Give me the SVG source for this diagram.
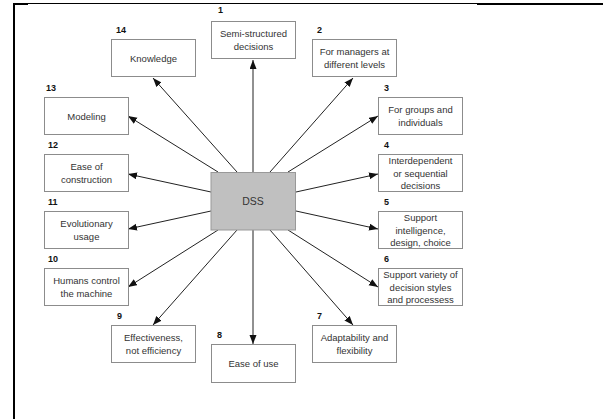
<svg xmlns="http://www.w3.org/2000/svg" width="603" height="419" viewBox="0 0 603 419">
  <style>
    .box { fill: #ffffff; stroke: #8c8c8c; stroke-width: 1; }
    .hub { fill: #c0c0c0; stroke: #999999; stroke-width: 1; }
    .txt { font-family: "Liberation Sans", Arial, sans-serif; font-size: 9.5px; fill: #333333; text-anchor: middle; }
    .hubtxt { font-family: "Liberation Sans", Arial, sans-serif; font-size: 10.5px; fill: #333333; text-anchor: middle; }
    .num { font-family: "Liberation Sans", Arial, sans-serif; font-size: 9px; font-weight: bold; fill: #111111; }
    .link { stroke: #222222; stroke-width: 1; fill: none; marker-end: url(#arrow); }
    .frame { stroke: #000000; fill: none; }
  </style>
  <defs>
    <marker id="arrow" markerUnits="userSpaceOnUse" markerWidth="10" markerHeight="8" refX="9" refY="3.5" orient="auto">
      <path d="M0,0 L9,3.5 L0,7 z" fill="#111111"/>
    </marker>
  </defs>

  <rect width="603" height="419" fill="#ffffff"/>

  <!-- page frame -->
  <g id="frame">
    <line class="frame" x1="14" y1="3" x2="14" y2="419" stroke-width="2"/>
    <line class="frame" x1="14" y1="3.5" x2="603" y2="3.5" stroke-width="1"/>
    <line class="frame" x1="13" y1="4" x2="28" y2="4" stroke-width="2"/>
    <line class="frame" x1="477" y1="4" x2="603" y2="4" stroke-width="2"/>
  </g>

  <!-- connectors from the hub -->
  <g id="connectors">
    <line class="link" x1="253" y1="172" x2="253" y2="60"/>
    <line class="link" x1="270" y1="172" x2="353" y2="78"/>
    <line class="link" x1="288" y1="172" x2="378" y2="116"/>
    <line class="link" x1="296" y1="192" x2="378" y2="174"/>
    <line class="link" x1="296" y1="211" x2="378" y2="229"/>
    <line class="link" x1="288" y1="230" x2="378" y2="287"/>
    <line class="link" x1="270" y1="230" x2="353" y2="325"/>
    <line class="link" x1="253" y1="230" x2="253" y2="344"/>
    <line class="link" x1="237" y1="230" x2="153" y2="325"/>
    <line class="link" x1="218" y1="230" x2="128" y2="287"/>
    <line class="link" x1="211" y1="211" x2="128" y2="229"/>
    <line class="link" x1="211" y1="192" x2="128" y2="174"/>
    <line class="link" x1="218" y1="172" x2="128" y2="116"/>
    <line class="link" x1="237" y1="172" x2="153" y2="78"/>
  </g>

  <g id="dss">
    <rect class="hub" x="211" y="172.5" width="84.5" height="57.5"/>
    <text class="hubtxt" x="253" y="205">DSS</text>
  </g>

  <g id="n1">
    <text class="num" x="218" y="13">1</text>
    <rect class="box" x="211.5" y="21.5" width="84" height="37"/>
    <text class="txt" x="253.5" y="37">Semi-structured</text>
    <text class="txt" x="253.5" y="50">decisions</text>
  </g>
  <g id="n2">
    <text class="num" x="317" y="33">2</text>
    <rect class="box" x="312.5" y="39.5" width="84" height="37"/>
    <text class="txt" x="354.5" y="55">For managers at</text>
    <text class="txt" x="354.5" y="68">different levels</text>
  </g>
  <g id="n3">
    <text class="num" x="384" y="91">3</text>
    <rect class="box" x="378.5" y="97.5" width="84" height="37"/>
    <text class="txt" x="420.5" y="113">For groups and</text>
    <text class="txt" x="420.5" y="126">individuals</text>
  </g>
  <g id="n4">
    <text class="num" x="384" y="148">4</text>
    <rect class="box" x="378.5" y="154.5" width="84" height="37"/>
    <text class="txt" x="420.5" y="164">Interdependent</text>
    <text class="txt" x="420.5" y="176.5">or sequential</text>
    <text class="txt" x="420.5" y="189">decisions</text>
  </g>
  <g id="n5">
    <text class="num" x="384" y="205">5</text>
    <rect class="box" x="378.5" y="211.5" width="84" height="37"/>
    <text class="txt" x="420.5" y="221">Support</text>
    <text class="txt" x="420.5" y="233.5">intelligence,</text>
    <text class="txt" x="420.5" y="246">design, choice</text>
  </g>
  <g id="n6">
    <text class="num" x="384" y="262">6</text>
    <rect class="box" x="378.5" y="268.5" width="84" height="37"/>
    <text class="txt" x="420.5" y="278">Support variety of</text>
    <text class="txt" x="420.5" y="290.5">decision styles</text>
    <text class="txt" x="420.5" y="303">and processess</text>
  </g>
  <g id="n7">
    <text class="num" x="317" y="319">7</text>
    <rect class="box" x="312.5" y="325.5" width="84" height="37"/>
    <text class="txt" x="354.5" y="341">Adaptability and</text>
    <text class="txt" x="354.5" y="354">flexibility</text>
  </g>
  <g id="n8">
    <text class="num" x="217" y="338">8</text>
    <rect class="box" x="211.5" y="344.5" width="84" height="38"/>
    <text class="txt" x="253.5" y="367">Ease of use</text>
  </g>
  <g id="n9">
    <text class="num" x="117" y="319">9</text>
    <rect class="box" x="111.5" y="325.5" width="84" height="37"/>
    <text class="txt" x="153.5" y="341">Effectiveness,</text>
    <text class="txt" x="153.5" y="354">not efficiency</text>
  </g>
  <g id="n10">
    <text class="num" x="48" y="262">10</text>
    <rect class="box" x="44.5" y="268.5" width="84" height="37"/>
    <text class="txt" x="86.5" y="284">Humans control</text>
    <text class="txt" x="86.5" y="297">the machine</text>
  </g>
  <g id="n11">
    <text class="num" x="48" y="205">11</text>
    <rect class="box" x="44.5" y="211.5" width="84" height="37"/>
    <text class="txt" x="86.5" y="227">Evolutionary</text>
    <text class="txt" x="86.5" y="240">usage</text>
  </g>
  <g id="n12">
    <text class="num" x="48" y="148">12</text>
    <rect class="box" x="44.5" y="154.5" width="84" height="37"/>
    <text class="txt" x="86.5" y="170">Ease of</text>
    <text class="txt" x="86.5" y="183">construction</text>
  </g>
  <g id="n13">
    <text class="num" x="46" y="91">13</text>
    <rect class="box" x="44.5" y="97.5" width="84" height="37"/>
    <text class="txt" x="86.5" y="120">Modeling</text>
  </g>
  <g id="n14">
    <text class="num" x="116" y="33">14</text>
    <rect class="box" x="111.5" y="39.5" width="84" height="37"/>
    <text class="txt" x="153.5" y="62">Knowledge</text>
  </g>
</svg>
